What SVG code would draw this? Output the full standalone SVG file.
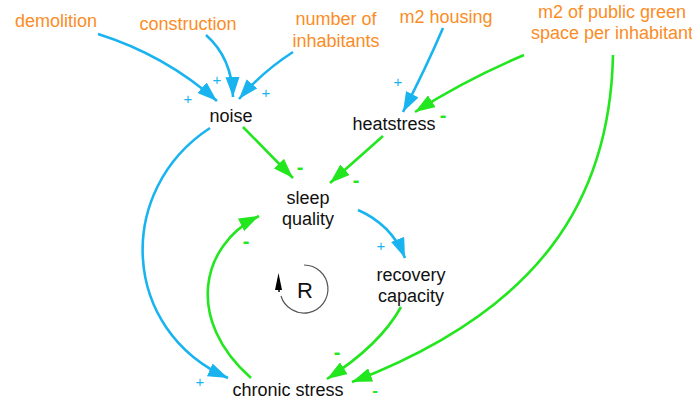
<svg xmlns="http://www.w3.org/2000/svg" width="692" height="400" viewBox="0 0 692 400">
<style>
.lbl{font-family:"Liberation Sans",Arial,sans-serif;font-size:18px;fill:#111;text-anchor:middle}
.ext{font-family:"Liberation Sans",Arial,sans-serif;font-size:18px;fill:#fb8c26;text-anchor:middle}
.b{fill:none;stroke:#19b4f0;stroke-width:2.6}
.g{fill:none;stroke:#22e61e;stroke-width:2.6}
.pl{font-family:"Liberation Sans",Arial,sans-serif;font-size:15px;fill:#19b4f0;text-anchor:middle}
.mi{font-family:"Liberation Sans",Arial,sans-serif;font-size:20px;font-weight:bold;fill:#22e61e;text-anchor:middle}
</style>
<defs>
<marker id="ab" markerUnits="userSpaceOnUse" markerWidth="21" markerHeight="14" refX="20" refY="7" orient="auto"><path d="M0,0 L20,7 L0,14 z" fill="#19b4f0"/></marker>
<marker id="ag" markerUnits="userSpaceOnUse" markerWidth="21" markerHeight="14" refX="20" refY="7" orient="auto"><path d="M0,0 L20,7 L0,14 z" fill="#22e61e"/></marker>
</defs>
<rect width="692" height="400" fill="#fff"/>
<g id="connectors">
<path class="b" d="M98,34 Q165,55 217,101" marker-end="url(#ab)"/>
<path class="b" d="M206,35 Q232,58 233,97" marker-end="url(#ab)"/>
<path class="b" d="M293,52 Q262,72 239,99" marker-end="url(#ab)"/>
<path class="b" d="M443,28 Q425,70 403,112" marker-end="url(#ab)"/>
<path class="g" d="M524,55 Q465,80 415,112" marker-end="url(#ag)"/>
<path class="g" d="M613,55 C610,200 540,310 352,382" marker-end="url(#ag)"/>
<path class="g" d="M243,127 L293,178" marker-end="url(#ag)"/>
<path class="g" d="M383,136 L330,183" marker-end="url(#ag)"/>
<path class="b" d="M358,210 Q392,225 405,258" marker-end="url(#ab)"/>
<path class="g" d="M401,307 Q380,345 327,379" marker-end="url(#ag)"/>
<path class="g" d="M251,378 C185,320 200,245 259,216" marker-end="url(#ag)"/>
<path class="b" d="M210,128 C115,190 120,330 228,378" marker-end="url(#ab)"/>
<text class="pl" x="188" y="104">+</text>
<text class="pl" x="217" y="85">+</text>
<text class="pl" x="266" y="98">+</text>
<text class="pl" x="398" y="87">+</text>
<text class="mi" x="443" y="122">-</text>
<text class="mi" x="300" y="174">-</text>
<text class="mi" x="356" y="187">-</text>
<text class="pl" x="381" y="251">+</text>
<text class="mi" x="246" y="248">-</text>
<text class="pl" x="200" y="387">+</text>
<text class="mi" x="337" y="359">-</text>
<text class="mi" x="375" y="396" style="font-size:17px">-</text>
</g>
<g id="demolition"><text class="ext" x="56" y="27">demolition</text></g>
<g id="construction"><text class="ext" x="188" y="30">construction</text></g>
<g id="inhabitants"><text class="ext" x="336" y="25">number of</text><text class="ext" x="336" y="47">inhabitants</text></g>
<g id="housing"><text class="ext" x="446" y="23">m2 housing</text></g>
<g id="green"><text class="ext" x="612" y="18">m2 of public green</text><text class="ext" x="612" y="39">space per inhabitant</text></g>
<g id="noise"><text class="lbl" x="231" y="122">noise</text></g>
<g id="heatstress"><text class="lbl" x="394" y="130">heatstress</text></g>
<g id="sleep"><text class="lbl" x="308" y="204">sleep</text><text class="lbl" x="308" y="225">quality</text></g>
<g id="recovery"><text class="lbl" x="411" y="281">recovery</text><text class="lbl" x="411" y="302">capacity</text></g>
<g id="chronic"><text class="lbl" x="288" y="396">chronic stress</text></g>
<g id="loop">
<path d="M304,265 A24,24 0 1 1 281,296" fill="none" stroke="#555" stroke-width="1.2"/>
<path d="M279,292 L279,285" stroke="#000" stroke-width="1.5"/>
<path d="M278.5,273 L275,290 L282,290 z" fill="#000"/>
<text x="305" y="298" font-family="'Liberation Sans',Arial,sans-serif" font-size="22" fill="#111" text-anchor="middle">R</text>
</g>
</svg>
